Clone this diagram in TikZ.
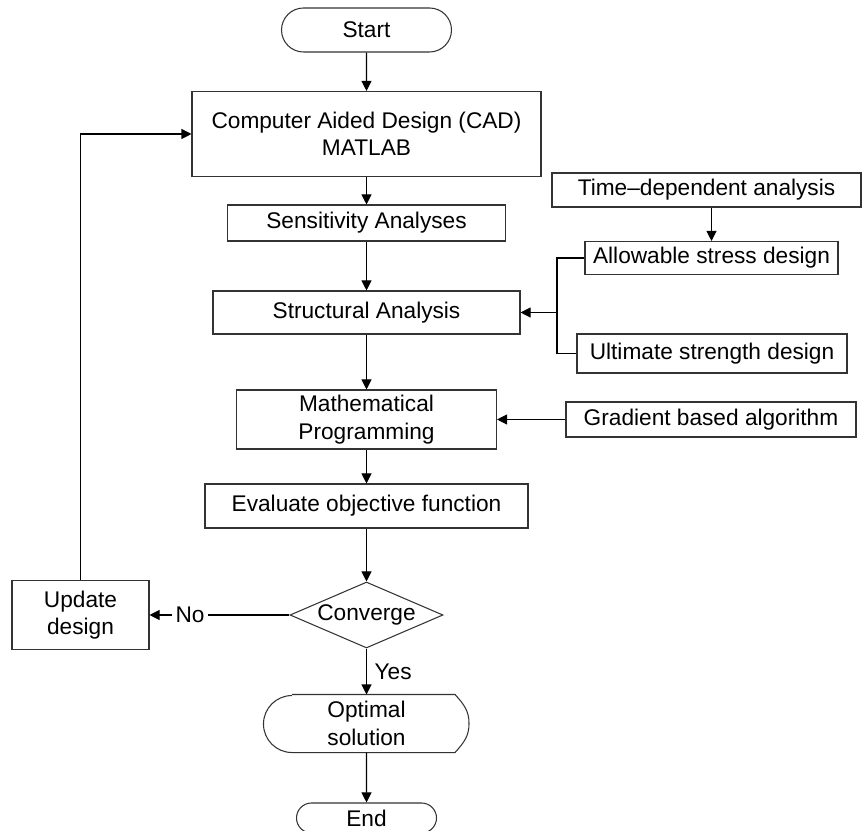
\documentclass[tikz,border=0pt]{standalone}
\usepackage{fontspec}
\setmainfont{Liberation Sans}
\usetikzlibrary{shapes.geometric,shapes.misc,arrows.meta,calc}

\begin{document}
\begin{tikzpicture}[
    box/.style={
        rectangle,
        draw=black!80,
        line width=0.6pt,
        inner sep=0pt,
        align=center,
        font=\fontsize{12.9}{15.6}\selectfont
    },
    terminal/.style={
        box,
        rounded rectangle
    },
    decision/.style={
        box,
        diamond,
        aspect=2.32,
        minimum width=3.06cm,
        minimum height=1.32cm
    },
    flow/.style={
        -{Triangle[length=0.2cm,width=0.2cm]},
        line width=0.6pt
    },
    tag/.style={
        font=\fontsize{12.9}{15.6}\selectfont
    }
]
\useasboundingbox (0,0) rectangle (17.24,16.6);

% Main column
\node[terminal, minimum width=3.4cm, minimum height=0.88cm] (start) at (7.33,16.0) {Start};
\node[box, minimum width=6.98cm, minimum height=1.70cm] (cad) at (7.33,13.92) {Computer Aided Design (CAD)\\MATLAB};
\node[box, minimum width=5.56cm, minimum height=0.72cm] (sens) at (7.33,12.14) {Sensitivity Analyses};
\node[box, minimum width=6.14cm, minimum height=0.86cm] (struct) at (7.33,10.35) {Structural Analysis};
\node[box, minimum width=5.2cm, minimum height=1.18cm] (math) at (7.33,8.21) {Mathematical\\Programming};
\node[box, minimum width=6.46cm, minimum height=0.88cm] (eval) at (7.33,6.48) {Evaluate objective function};
\node[decision] (conv) at (7.33,4.30) {Converge};
\node[box, draw=none, minimum width=4.08cm, minimum height=1.14cm] (optimal) at (7.33,2.13) {Optimal\\solution};
\node[terminal, minimum width=2.8cm, minimum height=0.60cm] (end) at (7.33,0.24) {End};

% Feedback
\node[box, minimum width=2.74cm, minimum height=1.38cm] (update) at (1.61,4.30) {Update\\design};

% Right column
\node[box, minimum width=6.18cm, minimum height=0.68cm] (timedep) at (14.13,12.80) {Time--dependent analysis};
\node[box, minimum width=5.06cm, minimum height=0.66cm] (allow) at (14.23,11.44) {Allowable stress design};
\node[box, minimum width=5.4cm, minimum height=0.78cm] (ult) at (14.24,9.53) {Ultimate strength design};
\node[box, minimum width=5.8cm, minimum height=0.70cm] (grad) at (14.22,8.21) {Gradient based algorithm};
\coordinate (junc) at (11.14,10.35);

% Optimal solution outline
\draw[line width=0.6pt, draw=black!80]
    ($(optimal.north west)+(0.56,0)$) -- ($(optimal.north east)+(-0.28,0)$)
    .. controls ($(optimal.north east)+(-0.1,-0.2)$) and ($(optimal.east)+(0,0.25)$) .. (optimal.east)
    .. controls ($(optimal.east)+(0,-0.25)$) and ($(optimal.south east)+(-0.1,0.2)$) .. ($(optimal.south east)+(-0.28,0)$)
    -- ($(optimal.south west)+(0.56,0)$)
    arc[start angle=270, end angle=90, radius=0.57cm];

% Connectors
\draw[flow] (start) -- (cad);
\draw[flow] (cad) -- (sens);
\draw[flow] (sens) -- (struct);
\draw[flow] (struct) -- (math);
\draw[flow] (math) -- (eval);
\draw[flow] (eval) -- (conv);
\draw[flow] (conv) -- node[tag, right=1pt] {Yes} (optimal);
\draw[flow] (optimal) -- (end);
\draw[flow] (conv) -- node[tag, fill=white, inner sep=2pt, pos=0.71] {No} (update);
\draw[flow] (update.north) |- (cad.west);

\draw[flow] (timedep.south -| allow.north) -- (allow.north);
\draw[line width=0.6pt] (allow.west) -| (junc) |- (ult.west);
\draw[flow] (junc) -- (struct.east);
\draw[flow] (grad) -- (math);

\end{tikzpicture}
\end{document}
